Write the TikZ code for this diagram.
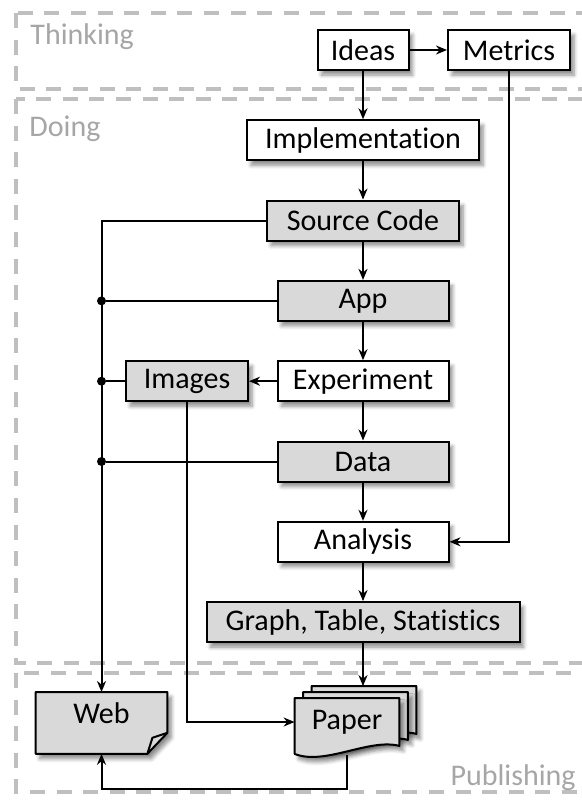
\documentclass[tikz,border=0pt]{standalone}
\usepackage{fontspec}
\setmainfont[Ligatures=CommonOff]{Carlito}
\usepackage{tikz}
\usetikzlibrary{calc,arrows.meta,shadows.blur,backgrounds}
\definecolor{boxgrey}{RGB}{217,217,217}
\definecolor{framegrey}{RGB}{191,191,191}
\definecolor{labelgrey}{RGB}{166,166,166}
\tikzstyle{softshadow}=[blur shadow={shadow xshift=2pt,shadow yshift=-2.5pt,
                        shadow opacity=45,shadow blur steps=6}]
\tikzstyle{stepbox}=[rectangle,draw=black,fill=white,line width=1pt,softshadow,
                     font=\fontsize{15}{18}\selectfont,inner sep=0pt,minimum height=20pt]
\tikzstyle{productbox}=[stepbox,fill=boxgrey]
\tikzstyle{sheet}=[draw=black,fill=boxgrey,line width=1pt,line join=round,softshadow]
\tikzstyle{flow}=[line width=1pt,-{Stealth[length=5.5pt,width=4.5pt]}]
\tikzstyle{link}=[line width=1pt]
\tikzstyle{junction}=[circle,fill=black,inner sep=0pt,minimum size=4.5pt]
\tikzstyle{frame}=[draw=framegrey,line width=1.6pt,dash pattern=on 7.5pt off 5.8pt]
\tikzstyle{framelabel}=[text=labelgrey,font=\fontsize{15}{18}\selectfont,inner sep=0pt]
\newcommand\maincol{363}
\newcommand\rowoffset{60}
\newcommand\rowspacing{80.3}
\newcommand\papersheet[1]{%
  \path[sheet] ($(paper.north west)+#1$) -- ($(paper.north east)+#1$)
    -- ($(paper.south east)+#1$)
    .. controls ($(paper.south east)+#1+(-30,-8)$) and ($(paper.south west)+#1+(30,20)$)
    .. ($(paper.south west)+#1+(0,8)$) -- cycle;}

\begin{document}
\begin{tikzpicture}[x=0.5pt,y=-0.5pt]
    \useasboundingbox (0,0) rectangle (582,803);
    % lanes
    \draw [frame] (16,13) rectangle (640,89);
    \draw [frame] (16,99) rectangle (640,663);
    \draw [frame] (16,673) rectangle (640,792);
    \node [framelabel,anchor=west] (thinking) at (30,37) {Thinking};
    \node [framelabel,anchor=west] (doing) at (29,129) {Doing};
    \node [framelabel,anchor=east] (publishing) at (576,778) {Publishing};

    % boxes
    \node [stepbox,minimum width=45.5pt] (ideas) at (\maincol,50) {Ideas};
    \node [stepbox,minimum width=61pt] (metrics) at (509,50) {Metrics};
    \node [stepbox,minimum width=116pt] (implementation)
        at ($(\maincol,\rowoffset+\rowspacing*1)$) {Implementation};
    \node [productbox,minimum width=96pt] (source code)
        at ($(\maincol,\rowoffset+\rowspacing*2)$) {Source Code};
    \node [productbox,minimum width=85.5pt] (app)
        at ($(\maincol,\rowoffset+\rowspacing*3)$) {App};
    \node [stepbox,minimum width=85.5pt] (experiment)
        at ($(\maincol,\rowoffset+\rowspacing*4)$) {Experiment};
    \node [productbox,minimum width=61pt] (images)
        at ($(187,\rowoffset+\rowspacing*4)$) {Images};
    \node [productbox,minimum width=85.5pt] (data)
        at ($(\maincol,\rowoffset+\rowspacing*5)$) {Data};
    \node [stepbox,minimum width=85.5pt] (analysis)
        at ($(\maincol,\rowoffset+\rowspacing*6)$) {Analysis};
    \node [productbox,minimum width=156.5pt] (graph table)
        at ($(\maincol,\rowoffset+\rowspacing*7)$) {Graph, Table, Statistics};

    % web page and paper
    \node [font=\fontsize{15}{18}\selectfont,inner ysep=0pt,text height=15.5pt,
           text depth=15pt,minimum width=65.5pt,anchor=north] (web) at (101.5,692) {Web};
    \node [font=\fontsize{15}{18}\selectfont,inner sep=0pt,minimum width=52pt,
           minimum height=23.5pt] (paper) at (347,722) {Paper};
    \begin{scope}[on background layer]
        \path [sheet] (web.north west) -- (web.north east) -- ($(web.south east)+(0,-21)$)
            -- ($(web.south east)+(-20,0)$) -- (web.south west) -- cycle;
        \draw [line width=1pt,line join=round] ($(web.south east)+(0,-21)$)
            -- ($(web.south east)+(-15,-16)$) -- ($(web.south east)+(-20,0)$);
        \papersheet{(17,-12)}
        \papersheet{(8.5,-6)}
        \papersheet{(0,0)}
    \end{scope}
    \coordinate (paper top) at ($(paper.north)+(17,-12)$);
    \coordinate (paper foot) at ($(paper.south)+(0,9)$);

    % connectors
    \draw [flow] (ideas) -- (metrics);
    \draw [flow] (ideas) -- (implementation);
    \draw [flow] (implementation) -- (source code);
    \draw [flow] (source code) -- (app);
    \draw [flow] (app) -- (experiment);
    \draw [flow] (experiment) -- (data);
    \draw [flow] (experiment) -- (images);
    \draw [flow] (data) -- (analysis);
    \draw [flow] (analysis) -- (graph table);
    \draw [flow] (metrics) |- (analysis);
    \draw [flow] (graph table) -- (graph table |- paper top);
    \draw [flow] (source code) -| (web);
    \node [junction] (app joint) at (app -| web) {};
    \node [junction] (images joint) at (images -| web) {};
    \node [junction] (data joint) at (data -| web) {};
    \draw [link] (app) -- (app joint);
    \draw [link] (images) -- (images joint);
    \draw [link] (data) -- (data joint);
    \draw [flow] (images) |- (paper);
    \draw [flow] (paper foot) -- ++(0,34) -| (web);
\end{tikzpicture}
\end{document}
